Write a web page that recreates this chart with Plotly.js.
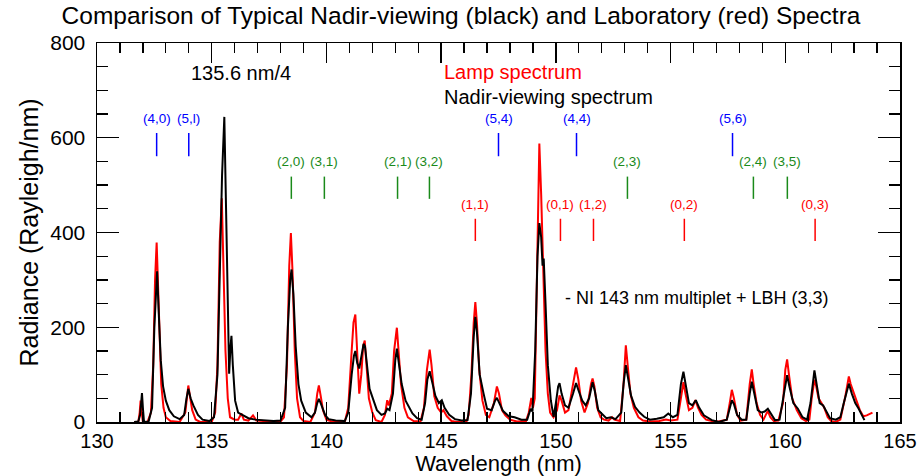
<!DOCTYPE html>
<html>
<head>
<meta charset="utf-8">
<script src="https://cdn.plot.ly/plotly-3.0.1.min.js"></script>
<style>html,body{margin:0;padding:0;background:#fff;}#chart{width:922px;height:476px;}</style>
</head>
<body>
<div id="chart"></div>
<script>
// Lamp spectrum (red)
const lampWave = [131.62,131.80,131.86,131.90,131.95,132.00,132.20,132.35,132.45,132.53,132.60,132.66,132.72,132.80,132.90,133.00,133.20,133.60,133.85,133.93,133.98,134.05,134.15,134.30,134.50,135.00,135.15,135.25,135.35,135.44,135.52,135.60,135.70,135.80,136.00,136.15,136.29,136.40,136.60,136.80,136.95,137.20,137.60,138.00,138.15,138.28,138.38,138.45,138.52,138.62,138.72,138.85,139.00,139.30,139.50,139.60,139.67,139.75,139.85,140.00,140.30,140.80,140.95,141.10,141.18,141.26,141.35,141.43,141.52,141.60,141.67,141.75,141.85,142.00,142.15,142.40,142.55,142.65,142.72,142.85,142.95,143.07,143.15,143.25,143.40,143.55,143.80,144.10,144.25,144.38,144.50,144.58,144.70,144.85,145.00,145.10,145.25,145.45,145.70,146.10,146.20,146.32,146.42,146.49,146.56,146.66,146.80,146.95,147.10,147.30,147.43,147.52,147.65,147.80,148.00,148.30,148.70,148.82,148.93,149.00,149.08,149.18,149.28,149.36,149.45,149.55,149.65,149.75,149.90,150.05,150.16,150.25,150.40,150.55,150.75,150.88,150.98,151.10,151.25,151.40,151.53,151.60,151.68,151.80,151.95,152.10,152.30,152.45,152.55,152.80,152.95,153.05,153.13,153.25,153.40,153.60,153.80,154.10,154.50,154.80,155.00,155.30,155.45,155.56,155.65,155.80,155.95,156.08,156.20,156.35,156.55,156.80,157.10,157.45,157.58,157.67,157.76,157.90,158.05,158.30,158.45,158.54,158.62,158.75,158.90,159.05,159.15,159.24,159.35,159.50,159.70,159.90,160.00,160.08,160.16,160.30,160.50,160.70,160.90,161.05,161.15,161.27,161.35,161.45,161.55,161.70,161.85,162.00,162.20,162.40,162.60,162.77,162.85,163.00,163.10,163.25,163.40,163.55,163.80];
const lampRad = [0,0,20,45,20,0,0,20,120,300,379,300,180,80,30,10,2,0,20,60,77,55,25,5,0,0,20,120,380,472,330,150,50,10,5,5,18,5,3,14,3,2,1,1,10,120,330,399,320,150,50,10,2,0,20,60,77,55,25,5,0,0,30,150,210,227,130,60,100,160,172,120,50,20,4,0,15,46,35,60,150,199,150,80,30,10,2,1,30,110,153,120,55,30,20,25,12,2,0,0,15,100,210,253,210,110,45,15,10,40,75,60,25,14,5,1,2,20,51,30,50,350,588,480,306,150,60,20,10,25,56,45,20,25,80,115,90,45,20,40,80,92,75,30,10,5,3,10,5,2,80,162,120,60,30,10,3,1,2,5,3,5,50,84,60,25,30,46,30,15,5,2,1,5,40,68,50,15,3,5,80,111,80,40,15,5,15,23,10,2,3,40,110,132,100,50,25,8,2,5,50,89,75,50,42,30,10,2,0,5,50,96,80,60,42,25,12,14,20];

// Nadir-viewing spectrum (black)
const nadirWave = [131.62,131.80,131.88,131.92,131.96,132.00,132.05,132.25,132.40,132.50,132.58,132.62,132.70,132.78,132.88,133.00,133.15,133.35,133.60,133.80,133.90,133.98,134.08,134.20,134.40,134.60,134.90,135.10,135.25,135.35,135.45,135.55,135.62,135.70,135.76,135.82,135.86,135.92,135.97,136.02,136.15,136.35,136.60,136.90,137.30,137.70,138.00,138.20,138.32,138.42,138.48,138.56,138.66,138.78,138.90,139.10,139.35,139.50,139.60,139.67,139.75,139.85,139.95,140.10,140.40,140.80,140.95,141.10,141.20,141.26,141.34,141.43,141.52,141.62,141.68,141.78,141.88,142.00,142.20,142.40,142.55,142.65,142.75,142.90,143.00,143.07,143.15,143.28,143.45,143.60,143.75,143.95,144.15,144.30,144.40,144.50,144.60,144.75,144.90,145.03,145.15,145.35,145.60,145.90,146.15,146.30,146.42,146.49,146.56,146.68,146.85,147.00,147.20,147.35,147.43,147.55,147.70,147.95,148.20,148.50,148.75,148.90,148.98,149.10,149.20,149.28,149.36,149.42,149.47,149.55,149.65,149.78,149.90,150.00,150.10,150.16,150.25,150.40,150.55,150.75,150.88,151.00,151.15,151.30,151.45,151.60,151.70,151.85,152.00,152.20,152.40,152.60,152.85,152.95,153.05,153.13,153.28,153.45,153.65,153.85,154.10,154.40,154.70,154.90,155.10,155.30,155.45,155.56,155.65,155.80,155.95,156.10,156.25,156.45,156.80,157.10,157.45,157.58,157.67,157.76,157.90,158.10,158.30,158.45,158.54,158.65,158.80,158.95,159.10,159.24,159.40,159.55,159.75,159.95,160.08,160.18,160.35,160.55,160.75,160.95,161.10,161.27,161.38,161.50,161.65,161.80,161.95,162.20,162.40,162.55,162.77,162.90,163.05,163.20,163.35,163.45];
const nadirRad = [0,1,15,40,61,30,0,1,30,200,300,318,220,130,75,45,25,12,6,15,50,70,50,35,15,5,2,10,100,300,520,644,450,200,102,160,182,120,85,45,20,15,8,5,3,2,3,30,200,300,322,270,160,80,45,20,10,20,40,49,40,28,14,6,3,2,20,100,140,150,125,113,140,165,160,110,70,53,25,15,18,28,25,60,130,155,130,80,45,30,18,8,5,40,90,107,85,55,40,46,30,15,6,3,4,60,180,222,190,100,60,28,25,45,51,40,23,12,10,5,5,28,22,150,350,420,390,330,345,250,120,46,11,40,75,82,60,35,30,60,82,65,45,35,50,84,65,25,18,8,10,6,20,80,120,100,55,32,20,11,5,7,10,18,10,15,80,106,80,40,35,46,30,14,4,0,5,30,46,38,15,5,5,60,85,60,25,20,22,28,15,4,5,60,99,75,40,28,10,5,40,109,75,40,35,20,8,5,10,40,81,60,40,28,15,4];

// LBH band markers
const bandLabels = ["(4,0)","(5,l)","(5,4)","(4,4)","(5,6)",
                    "(2,0)","(3,1)","(2,1)","(3,2)","(2,3)","(2,4)","(3,5)",
                    "(1,1)","(0,1)","(1,2)","(0,2)","(0,3)"];
const bandWave = [132.6,134.0,147.5,150.9,157.7,
                  138.47,139.91,143.1,144.49,153.12,158.61,160.09,
                  146.49,150.2,151.64,155.6,161.3];
const bandGroup = ["blue","blue","blue","blue","blue",
                   "green","green","green","green","green","green","green",
                   "red","red","red","red","red"];

const xTicks = [130,135,140,145,150,155,160,165];
const yTicks = [0,200,400,600,800];

const groupStyle = {
  blue:  {color:"#0000ff", y0:561, y1:610, ty:640},
  green: {color:"#1a8a1a", y0:471, y1:518, ty:549},
  red:   {color:"#ff0000", y0:382, y1:429, ty:459}
};

const FONT = "Liberation Sans, Arial, Helvetica, sans-serif";

const traces = [
  {x: lampWave, y: lampRad, type:"scatter", mode:"lines", line:{color:"#ff0000", width:2}, hoverinfo:"skip"},
  {x: nadirWave, y: nadirRad, type:"scatter", mode:"lines", line:{color:"#000000", width:2}, hoverinfo:"skip"}
];

const shapes = [];
const annotations = [];
bandLabels.forEach((lab, i) => {
  const st = groupStyle[bandGroup[i]];
  shapes.push({type:"line", xref:"x", yref:"y", x0:bandWave[i], x1:bandWave[i], y0:st.y0, y1:st.y1,
               line:{color:st.color, width:1.5}});
  annotations.push({x:bandWave[i], y:st.ty, xref:"x", yref:"y", text:lab, showarrow:false,
                    xanchor:"center", yanchor:"middle", font:{family:FONT, size:13.5, color:st.color}});
});

annotations.push({x:136.26, y:736, xref:"x", yref:"y", text:"135.6 nm/4", showarrow:false,
                  xanchor:"center", yanchor:"middle", font:{family:FONT, size:20, color:"#000"}});
annotations.push({x:145.05, y:738, xref:"x", yref:"y", text:"Lamp spectrum", showarrow:false,
                  xanchor:"left", yanchor:"middle", font:{family:FONT, size:20, color:"#ff0000"}});
annotations.push({x:145.05, y:687, xref:"x", yref:"y", text:"Nadir-viewing spectrum", showarrow:false,
                  xanchor:"left", yanchor:"middle", font:{family:FONT, size:20, color:"#000"}});
annotations.push({x:150.33, y:261, xref:"x", yref:"y", text:"- NI 143 nm multiplet + LBH (3,3)", showarrow:false,
                  xanchor:"left", yanchor:"middle", font:{family:FONT, size:18, color:"#000"}});

const layout = {
  width:922, height:476,
  margin:{l:97, r:22, t:43, b:54},
  paper_bgcolor:"#fff", plot_bgcolor:"#fff",
  showlegend:false,
  title:{text:"Comparison of Typical Nadir-viewing (black) and Laboratory (red) Spectra",
         font:{family:FONT, size:24.5, color:"#000"}, x:0.5, xanchor:"center", y:0.968, yanchor:"middle"},
  xaxis:{range:[130,165], tickvals:xTicks, ticktext:xTicks.map(String),
         ticks:"inside", ticklen:20, tickwidth:1.3, tickcolor:"#000",
         minor:{dtick:1, ticks:"inside", ticklen:10, tickwidth:1.3, tickcolor:"#000"},
         showline:true, linecolor:"#000", linewidth:1.5, mirror:"ticks", showgrid:false, zeroline:false,
         tickfont:{family:FONT, size:20, color:"#000"},
         title:{text:"Wavelength (nm)", font:{family:FONT, size:22, color:"#000"}, standoff:2}},
  yaxis:{range:[0,800], tickvals:yTicks, ticktext:yTicks.map(String),
         ticks:"inside", ticklen:22, tickwidth:1.3, tickcolor:"#000",
         minor:{dtick:50, ticks:"inside", ticklen:11, tickwidth:1.3, tickcolor:"#000"},
         showline:true, linecolor:"#000", linewidth:1.5, mirror:"ticks", showgrid:false, zeroline:false,
         tickfont:{family:FONT, size:21, color:"#000"}, ticklabelstandoff:6,
         title:{text:"Radiance (Rayleigh/nm)", font:{family:FONT, size:25, color:"#000"}, standoff:4}},
  shapes: shapes,
  annotations: annotations
};

Plotly.newPlot("chart", traces, layout, {staticPlot:true, displayModeBar:false});
</script>
</body>
</html>
